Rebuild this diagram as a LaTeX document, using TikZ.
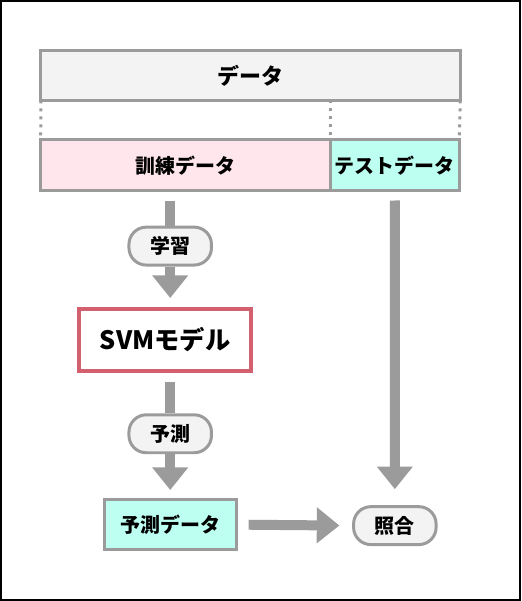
\documentclass[tikz,border=0pt]{standalone}
\usepackage{fontspec}
\setmainfont{Noto Sans CJK JP}
\usetikzlibrary{arrows.meta, positioning}

\definecolor{linegray}{HTML}{9B9B9B}
\definecolor{boxgray}{HTML}{F3F3F3}
\definecolor{trainpink}{HTML}{FFE6EC}
\definecolor{testcyan}{HTML}{BDFFF1}
\definecolor{svmred}{HTML}{D2606F}

\begin{document}
\begin{tikzpicture}[x=0.75pt, y=-0.75pt,
box/.style = {draw=linegray, line width=2.25pt, inner sep=0pt, outer sep=0pt, minimum height=38pt, font=\bfseries\fontsize{15}{18}\selectfont},
pill/.style = {draw=linegray, fill=boxgray, line width=2.25pt, rounded corners=13pt, inner sep=0pt, minimum width=62pt, minimum height=28.5pt, font=\bfseries\fontsize{15}{18}\selectfont},
shaft/.style = {draw=linegray, line width=7.5pt},
bigarrow/.style = {shaft, -{Triangle[width=26pt, length=17pt]}},
split/.style = {draw=linegray, line width=2.25pt, dash pattern=on 2.25pt off 3.75pt}
                        ]
% frame
\draw[line width=1.5pt] (0.5,0.5) rectangle (520.5,600.5);
%

% data row
\node[box, fill=boxgray, minimum width=315pt, minimum height=37.5pt, font=\bfseries\fontsize{16.5}{20}\selectfont] (data) at (250.5,75) {データ};
\node[box, fill=trainpink, minimum width=217.5pt] (train) at (185.25,165) {訓練データ};
\node[box, fill=testcyan, minimum width=97pt, right=0pt of train] (test) {テストデータ};

% split lines
\draw[split] (data.south west) -- (train.north west);
\draw[split] (data.south -| train.north east) -- (train.north east);
\draw[split] (data.south east) -- (test.north east);

% left column
\node[pill] (learn) at (170,246) {学習};
\node[draw=svmred, line width=3pt, inner sep=0pt, minimum width=129pt, minimum height=46.5pt, font=\bfseries\fontsize{19}{22}\selectfont] (svm) at (165,340) {SVMモデル};
\node[pill] (predict) at (170,434) {予測};
\node[box, fill=testcyan, minimum width=99pt] (result) at (170.5,525) {予測データ};

% check
\node[pill] (check) at (395,526) {照合};

% arrows
\draw[shaft, shorten <=7.5pt] (train.south -| learn.north) -- (learn.north);
\draw[bigarrow, shorten >=6.75pt] (learn.south) -- (learn.south |- svm.north);
\draw[shaft, shorten <=7pt] (svm.south -| predict.north) -- (predict.north);
\draw[bigarrow, shorten >=7pt] (predict.south) -- (predict.south |- result.north);
\draw[bigarrow, shorten <=7.5pt, shorten >=12pt] (test.south) -- (check.north);
\draw[bigarrow, shorten <=9pt, shorten >=9.5pt] (result.east) -- (check.west);

\end{tikzpicture}
\end{document}
